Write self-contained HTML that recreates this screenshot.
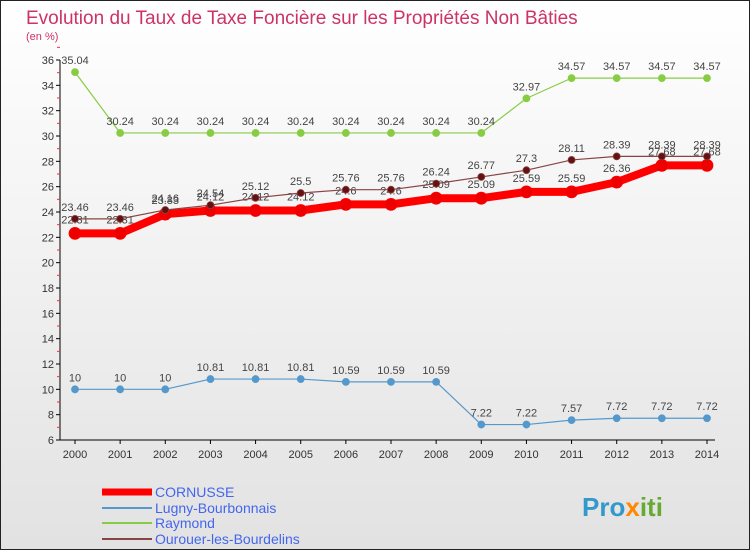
<!DOCTYPE html>
<html><head><meta charset="utf-8"><style>
body{margin:0;width:750px;height:550px;overflow:hidden;font-family:"Liberation Sans",sans-serif}
</style></head><body>
<svg width="750" height="550" xmlns="http://www.w3.org/2000/svg" id="svg">
<defs><linearGradient id="bg" x1="0" y1="0" x2="0" y2="1"><stop offset="0" stop-color="#ffffff"/><stop offset="1" stop-color="#e2e2e2"/></linearGradient></defs>
<rect x="0.5" y="0.5" width="749" height="549" fill="url(#bg)" stroke="#222"/>
<text x="26" y="24" font-size="19" fill="#cc3366">Evolution du Taux de Taxe Foncière sur les Propriétés Non Bâties</text>
<text x="26" y="40" font-size="11" fill="#cc3366">(en %)</text>
<g id="axes"></g><g id="series"></g>
<g font-size="14" fill="#3355ff">
<line x1="102" y1="492" x2="152" y2="492" stroke="#ff0000" stroke-width="7"/>
<text x="155" y="497" fill="#4466ee">CORNUSSE</text>
<line x1="102" y1="508" x2="152" y2="508" stroke="#5599cc" stroke-width="2"/>
<text x="155" y="513" fill="#4466ee">Lugny-Bourbonnais</text>
<line x1="102" y1="523" x2="152" y2="523" stroke="#88cc44" stroke-width="2"/>
<text x="155" y="528" fill="#4466ee">Raymond</text>
<line x1="102" y1="539" x2="152" y2="539" stroke="#884444" stroke-width="2"/>
<text x="155" y="544" fill="#4466ee">Ourouer-les-Bourdelins</text>
</g>
<text x="582" y="516" font-size="26" font-weight="bold" fill="#3399cc">Pro<tspan fill="#ff8800">x</tspan><tspan fill="#66aa33">iti</tspan></text>
</svg>
<script>
const years=[2000,2001,2002,2003,2004,2005,2006,2007,2008,2009,2010,2011,2012,2013,2014];
const yTicks=[6,8,10,12,14,16,18,20,22,24,26,28,30,32,34,36];
const cornusse=[22.31,22.31,23.83,24.12,24.12,24.12,24.6,24.6,25.09,25.09,25.59,25.59,26.36,27.68,27.68];
const lugny=[10,10,10,10.81,10.81,10.81,10.59,10.59,10.59,7.22,7.22,7.57,7.72,7.72,7.72];
const raymond=[35.04,30.24,30.24,30.24,30.24,30.24,30.24,30.24,30.24,30.24,32.97,34.57,34.57,34.57,34.57];
const ourouer=[23.46,23.46,24.16,24.54,25.12,25.5,25.76,25.76,26.24,26.77,27.3,28.11,28.39,28.39,28.39];
const NS='http://www.w3.org/2000/svg';
const x=i=>75+i*(632/14);
const y=v=>440-(v-6)*(380/30);
function mk(t,a,p){const e=document.createElementNS(NS,t);for(const k in a)e.setAttribute(k,a[k]);p.appendChild(e);return e;}
const ax=document.getElementById('axes');
mk('line',{x1:60,y1:60,x2:60,y2:440,stroke:'#000'},ax);
mk('line',{x1:60,y1:440,x2:715,y2:440,stroke:'#000'},ax);
yTicks.forEach(v=>{
 const l=mk('line',{x1:56,y1:y(v),x2:60,y2:y(v),stroke:'#000'},ax);
 
 
 mk('line',{x1:57,y1:y(v+1),x2:60,y2:y(v+1),stroke:'#e33'},ax);
 const t=mk('text',{x:54,y:y(v)+4,'font-size':11,'text-anchor':'end',fill:'#333'},ax);
 
 
 t.textContent=v;
});
years.forEach((yr,i)=>{
 mk('line',{x1:x(i),y1:440,x2:x(i),y2:444,stroke:'#000'},ax);
 const t=mk('text',{x:x(i),y:458,'font-size':11,'text-anchor':'middle',fill:'#333'},ax);
 
 
 t.textContent=yr;
});
const sg=document.getElementById('series');
function series(name,data,color,w,r,fill,dy){
 const g=mk('g',{},sg);
 
 
 mk('polyline',{points:data.map((v,i)=>x(i)+','+y(v)).join(' '),fill:'none',stroke:color,'stroke-width':w,'stroke-linejoin':'round'},g);
 data.forEach((v,i)=>{
  const c=mk('circle',{cx:x(i),cy:y(v),r:r,fill:fill,stroke:color,'stroke-width':0.8},g);
  
  
  const t=mk('text',{x:x(i),y:y(v)+dy,'font-size':11,'text-anchor':'middle',fill:'#444'},g);
  
  
  t.textContent=v;
 });
}
series('series-raymond',raymond,'#88cc44',1.2,3.5,'#88cc44',-8);
series('series-lugny',lugny,'#5599cc',1.2,3.5,'#5599cc',-8);
series('series-cornusse',cornusse,'#ff0000',8,6,'#ee0000',-10);
series('series-ourouer',ourouer,'#884444',1.2,3.5,'#661111',-8);
</script>
</body></html>
